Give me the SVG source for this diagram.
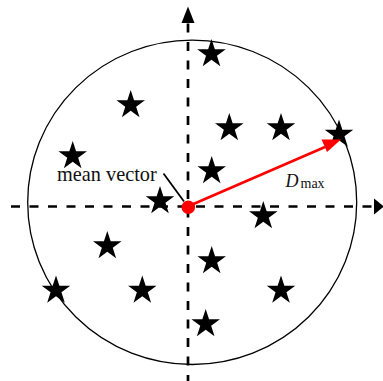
<svg xmlns="http://www.w3.org/2000/svg" width="383" height="381" viewBox="0 0 383 381">
<style>
.axis{stroke:#000;stroke-width:2.7;stroke-dasharray:9 9.5;fill:none}
.star{fill:#000}
.lbl{font-family:"Liberation Serif","Times New Roman",serif;fill:#111}
</style>
<defs>
<path id="star" d="M0,-15 L3.37,-4.64 L14.27,-4.64 L5.45,1.77 L8.82,12.14 L0,5.73 L-8.82,12.14 L-5.45,1.77 L-14.27,-4.64 L-3.37,-4.64 Z"/>
</defs>
<rect width="383" height="381" fill="#fff"/>
<ellipse id="boundary" cx="192.2" cy="202.3" rx="164.5" ry="162.2" fill="none" stroke="#000" stroke-width="1.3"/>
<g id="axes">
<line class="axis" x1="11" y1="206.5" x2="374" y2="206.5"/>
<polygon points="374,198.5 384,206.5 374,214.5" fill="#000"/>
<line class="axis" x1="188" y1="381" x2="188" y2="22" style="stroke-dashoffset:3"/>
<polygon points="181.5,23 188,6.5 194.5,23" fill="#000"/>
</g>
<g id="stars">
<g id="s1"><use href="#star" x="211.5" y="54"/></g>
<g id="s2"><use href="#star" x="130.7" y="105"/></g>
<g id="s3"><use href="#star" x="229.3" y="128"/></g>
<g id="s4"><use href="#star" x="281" y="128"/></g>
<g id="s5"><use href="#star" x="339" y="134.5"/></g>
<g id="s6"><use href="#star" x="72.7" y="156"/></g>
<g id="s7"><use href="#star" x="211.7" y="171"/></g>
<g id="s8"><use href="#star" x="160" y="201"/></g>
<g id="s9"><use href="#star" x="263.3" y="216"/></g>
<g id="s10"><use href="#star" x="107.3" y="246"/></g>
<g id="s11"><use href="#star" x="211.7" y="261"/></g>
<g id="s12"><use href="#star" x="56" y="290.5"/></g>
<g id="s13"><use href="#star" x="142.3" y="290.5"/></g>
<g id="s14"><use href="#star" x="281" y="290.5"/></g>
<g id="s15"><use href="#star" x="205.7" y="324"/></g>
</g>
<g id="connectors">
<line x1="163.5" y1="173.5" x2="184" y2="201.5" stroke="#000" stroke-width="1.8"/>
<line x1="190" y1="205.5" x2="325" y2="147" stroke="#f00" stroke-width="2.6"/>
<polygon points="341,139.5 321.5,139.5 327,152" fill="#f00"/>
</g>
<g id="mean">
<circle cx="188.3" cy="207.3" r="6.8" fill="#f00"/>
<text class="lbl" x="57" y="181" font-size="20.3">mean vector</text>
</g>
<g id="dmax">
<text class="lbl" x="285.5" y="186.5" font-size="18" font-style="italic">D</text>
<text class="lbl" x="300.5" y="187.5" font-size="14">max</text>
</g>
</svg>
